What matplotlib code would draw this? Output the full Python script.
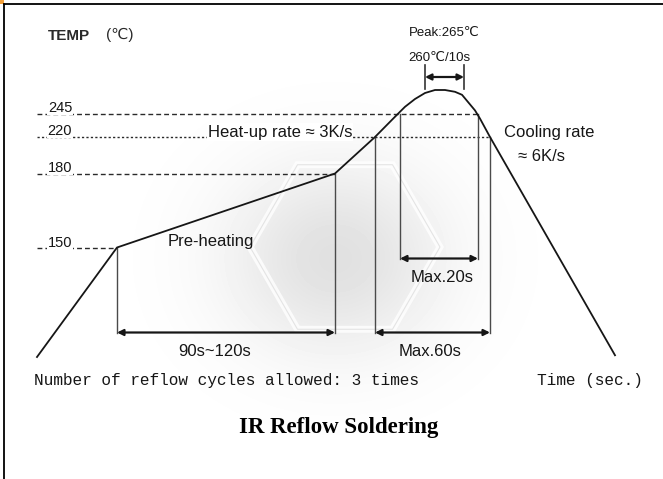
import numpy as np
import matplotlib
matplotlib.use("Agg")
import matplotlib.pyplot as plt
from matplotlib.lines import Line2D
from matplotlib.patches import Rectangle, Polygon

# ---------------- data (schematic reflow profile) ----------------
profile_time = [0, 40, 149, 169, 179, 184, 189, 194, 199, 204, 209, 212.5, 215.5, 219, 221.5, 226.5, 289]
profile_temp = [25, 150, 180, 220, 242, 251, 257.5, 262.5, 265, 265, 263.5, 261, 255, 248, 240, 220, 27]

level_temps = [245, 220, 180, 150]
level_labels = ["245", "220", "180", "150"]
level_end_times = [220.5, 226.5, 149, 40]

preheat_window = (40, 149)        # 150 -> 180 C
preheat_temps = (150, 180)
liquidus_window = (169, 226.5)    # above 220 C
above245_window = (181.5, 220.5)  # above 245 C
peak_window = (194, 213.5)        # 260 C / 10 s

span_labels = ["90s~120s", "Max.60s", "Max.20s"]

# ---------------- figure / schematic scales ----------------
W, H = 663, 479
fig = plt.figure(figsize=(W / 100, H / 100), dpi=100)

# the drawing is not to scale: piecewise-linear temperature axis
TA = np.array([25, 150, 180, 220, 245, 265], float)
PA = -np.array([357, 247.5, 173.5, 137, 114, 90], float)


def fwd(T):
    T = np.asarray(T, float)
    out = np.interp(T, TA, PA)
    s0 = (PA[1] - PA[0]) / (TA[1] - TA[0])
    s1 = (PA[-1] - PA[-2]) / (TA[-1] - TA[-2])
    out = np.where(T < TA[0], PA[0] + (T - TA[0]) * s0, out)
    out = np.where(T > TA[-1], PA[-1] + (T - TA[-1]) * s1, out)
    return out


def inv(P):
    P = np.asarray(P, float)
    out = np.interp(P, PA, TA)
    s0 = (TA[1] - TA[0]) / (PA[1] - PA[0])
    s1 = (TA[-1] - TA[-2]) / (PA[-1] - PA[-2])
    out = np.where(P < PA[0], TA[0] + (P - PA[0]) * s0, out)
    out = np.where(P > PA[-1], TA[-1] + (P - PA[-1]) * s1, out)
    return out


def row(px):  # temperature that sits at a given pixel row (layout helper)
    return float(inv(-px))


# ---------------- watermark background ----------------
bg = fig.add_axes([0, 0, 1, 1], zorder=0)
bg.set_xlim(0, W)
bg.set_ylim(H, 0)
bg.axis("off")
yy, xx = np.mgrid[0:H, 0:W]
d = ((xx - 335) / 115.0) ** 2 + ((yy - 258) / 100.0) ** 2
img = 1 - 0.12 * np.exp(-d * 1.1)
bg.imshow(img, cmap="gray", vmin=0, vmax=1, extent=(0, W, H, 0), aspect="auto",
          interpolation="bilinear")
cx, cy, r = 345, 247, 95
ang = np.deg2rad(np.arange(0, 360, 60))
hexagon = np.column_stack([cx + r * np.cos(ang), cy + r * np.sin(ang)])
bg.add_patch(Polygon(hexagon, closed=True, fill=False, ec="white", lw=5, alpha=0.8))
bg.add_patch(Polygon(hexagon, closed=True, fill=False, ec="#dadada", lw=0.8, alpha=0.7))

# ---------------- main schematic axes ----------------
ax = fig.add_axes([0, 0, 1, 1], zorder=1)
ax.patch.set_alpha(0)
ax.set_yscale("function", functions=(fwd, inv))
ax.set_xlim(-18.5, 313)
ax.set_ylim(row(H), row(0))
ax.axis("off")

ink = "#161616"
ax.plot(profile_time, profile_temp, color=ink, lw=1.3, solid_joinstyle="round", zorder=5)

# dashed temperature levels
for T, tend in zip(level_temps, level_end_times):
    ls = (0, (1.6, 1.6)) if T == 220 else (0, (3.5, 2.2))
    ax.plot([0, tend], [T, T], color="#2a2a2a", lw=1.0, ls=ls, zorder=3)

# vertical guide lines
low = row(332.5)
mid = row(258.5)
vline_kw = dict(color="#4a4a4a", lw=1.0, zorder=3)
ax.plot([preheat_window[0]] * 2, [preheat_temps[0], low], **vline_kw)
ax.plot([preheat_window[1]] * 2, [preheat_temps[1], low], **vline_kw)
ax.plot([liquidus_window[0]] * 2, [220, low], **vline_kw)
ax.plot([liquidus_window[1]] * 2, [220, low], **vline_kw)
ax.plot([above245_window[0]] * 2, [245, mid], **vline_kw)
ax.plot([above245_window[1]] * 2, [245, mid], **vline_kw)
for t in peak_window:
    ax.plot([t, t], [row(89), row(65)], color="#333333", lw=1.2, zorder=3)


def span_arrow(t0, t1, T):
    ax.annotate("", xy=(t1, T), xytext=(t0, T),
                arrowprops=dict(arrowstyle="<|-|>", color=ink, lw=1.6,
                                mutation_scale=9, shrinkA=0, shrinkB=0),
                zorder=6)


span_arrow(*preheat_window, low)
span_arrow(*liquidus_window, low)
span_arrow(*above245_window, mid)
span_arrow(*peak_window, row(77))

# ---------------- text ----------------
sans = ["Liberation Sans", "DejaVu Sans"]


def ptext(x, y, s, **kw):
    kw.setdefault("ha", "center")
    kw.setdefault("va", "center")
    kw.setdefault("family", sans)
    kw.setdefault("color", ink)
    return fig.text(x / W, 1 - y / H, s, zorder=10, **kw)


ptext(69, 36, "TEMP", fontsize=11, fontweight="bold", color="#2a2a2a")
ptext(120, 35, "(℃)", fontsize=11, color="#2a2a2a")
ptext(444, 33, "Peak:265℃", fontsize=9.5)
ptext(439, 58, "260℃/10s", fontsize=9.5)

label_rows = [108, 131, 168, 243]
for lab, y in zip(level_labels, label_rows):
    ptext(60, y, lab, fontsize=10.5, bbox=dict(fc="white", ec="none", pad=0.3))

ptext(280, 132, "Heat-up rate ≈ 3K/s", fontsize=12,
      bbox=dict(fc="white", ec="none", pad=0.8))
ptext(549, 132, "Cooling rate", fontsize=12)
ptext(541, 156, "≈ 6K/s", fontsize=12)
ptext(211, 242, "Pre-heating", fontsize=12)
ptext(215, 352, span_labels[0], fontsize=12)
ptext(430, 351, span_labels[1], fontsize=12)
ptext(442, 277, span_labels[2], fontsize=12)

ptext(34, 381, "Number of reflow cycles allowed: 3 times", ha="left",
      family=["Liberation Mono", "DejaVu Sans Mono"], fontsize=11.6)
ptext(643, 381, "Time (sec.)", ha="right",
      family=["Liberation Mono", "DejaVu Sans Mono"], fontsize=11.6)

ptext(339, 428, "IR Reflow Soldering", family=["Liberation Serif", "DejaVu Serif"],
      fontsize=16.5, fontweight="bold", color="black")

# ---------------- frame ----------------
fig.add_artist(Line2D([4 / W, 1], [1 - 4 / H] * 2, transform=fig.transFigure,
                      color="black", lw=1.3))
fig.add_artist(Line2D([4 / W] * 2, [0, 1 - 4 / H], transform=fig.transFigure,
                      color="black", lw=1.3))
fig.add_artist(Rectangle((0, 1 - 3.5 / H), 3.5 / W, 3.5 / H, transform=fig.transFigure,
                         color="#f2a03c", lw=0))

fig.savefig("out.png", dpi=100)
